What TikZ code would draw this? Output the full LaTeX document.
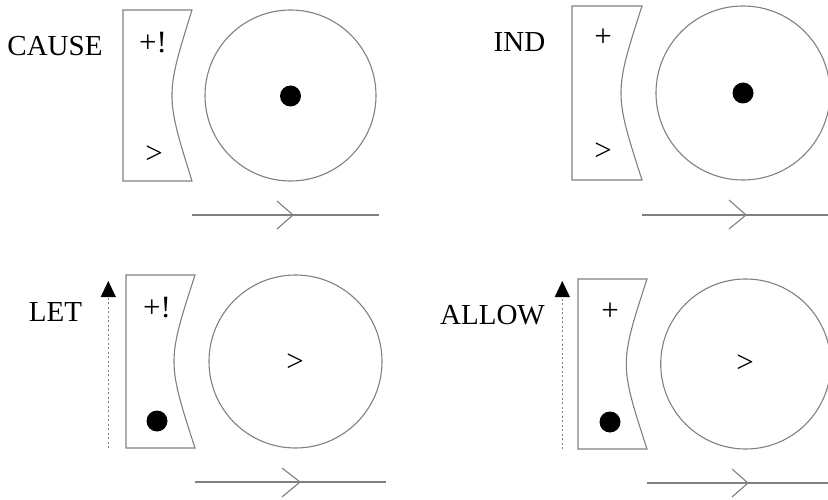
\documentclass[tikz,border=0pt]{standalone}
\usepackage{fontspec}
\setmainfont{Liberation Serif}
\usetikzlibrary{arrows.meta}
\definecolor{linegray}{gray}{0.5}
\begin{document}
\begin{tikzpicture}[x=1pt,y=-1pt,
  outline/.style={draw=linegray,line width=1.1pt},
  ball/.style={fill=black},
  lbl/.style={font=\fontsize{29}{29}\selectfont,inner sep=0pt},
  sym/.style={font=\fontsize{31}{31}\selectfont,inner sep=0pt},
  chev/.style={draw=linegray,line width=1.1pt},
  uparrow/.style={draw=linegray,line width=1pt,dash pattern=on 2pt off 2.5pt,
     -{Triangle[width=15pt,length=16pt,fill=black,color=black]}}]
\useasboundingbox (0,0) rectangle (828,500);

% ---------- CAUSE ----------
\node[lbl] (cause) at (55,46) {CAUSE};
\draw[outline] (123,10) -- (192,10) .. controls (165.3,95.5) and (165.3,95.5) .. (192,181) -- (123,181) -- cycle;
\node[sym] (c1) at (153,43) {+!};
\node[sym] (c2) at (154,155) {>};
\draw[outline] (290.5,95.5) circle[radius=85.5];
\fill[ball] (290.5,96) circle[radius=10.5];
\coordinate (ca) at (192,215); \coordinate (cb) at (379,215); \coordinate (ct) at (293,215);
\draw[chev] (ca) -- (cb);
\draw[chev] (277,201) -- (ct) -- (277,229);

% ---------- IND ----------
\node[lbl] (ind) at (519.5,42) {IND};
\draw[outline] (572,6) -- (642,6) .. controls (614,93) and (614,93) .. (642,180) -- (572,180) -- cycle;
\node[sym] (i1) at (603,38) {+};
\node[sym] (i2) at (603,152) {>};
\draw[outline] (743,93) circle[radius=87];
\fill[ball] (743,93) circle[radius=10.5];
\coordinate (ia) at (642,215); \coordinate (ib) at (828,215); \coordinate (it) at (746,215);
\draw[chev] (ia) -- (ib);
\draw[chev] (729,200) -- (it) -- (729,229);

% ---------- LET ----------
\node[lbl] (let) at (55.5,312) {LET};
\draw[outline] (126,275) -- (195,275) .. controls (167,361.5) and (167,361.5) .. (195,448) -- (126,448) -- cycle;
\node[sym] (l1) at (157,308) {+!};
\fill[ball] (157,421) circle[radius=10.5];
\draw[outline] (295.5,361.5) circle[radius=86.5];
\node[sym] (l2) at (295,363) {>};
\coordinate (ld0) at (108.3,448); \coordinate (ld1) at (108.3,281);
\draw[uparrow] (ld0) -- (ld1);
\coordinate (la) at (195,482); \coordinate (lb) at (386,482); \coordinate (lt) at (300,482);
\draw[chev] (la) -- (lb);
\draw[chev] (282,468) -- (lt) -- (282,497);

% ---------- ALLOW ----------
\node[lbl] (allow) at (492.5,315) {ALLOW};
\draw[outline] (578,279) -- (647,279) .. controls (619.4,364) and (619.4,364) .. (647,449) -- (578,449) -- cycle;
\node[sym] (a1) at (610,312) {+};
\fill[ball] (610,422) circle[radius=10.5];
\draw[outline] (745.7,364) circle[radius=85];
\node[sym] (a2) at (745,364) {>};
\coordinate (ad0) at (562.3,449); \coordinate (ad1) at (562.3,281);
\draw[uparrow] (ad0) -- (ad1);
\coordinate (aa) at (647,483); \coordinate (ab) at (828,483); \coordinate (at0) at (748,483);
\draw[chev] (aa) -- (ab);
\draw[chev] (732,469) -- (at0) -- (732,497);
\end{tikzpicture}
\end{document}
